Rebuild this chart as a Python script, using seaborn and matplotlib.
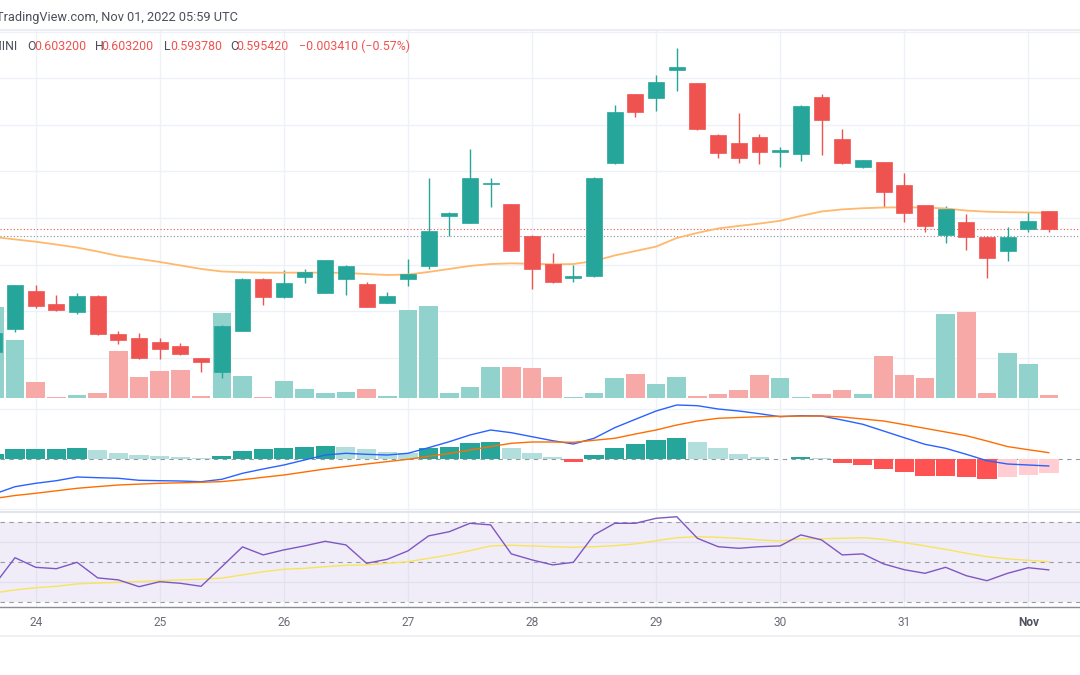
import matplotlib
matplotlib.use("Agg")
import matplotlib.pyplot as plt
from matplotlib.lines import Line2D
import seaborn as sns
import numpy as np

# 4h candles, Oct 23 16:00 -> Nov 01 04:00 UTC
opens = [0.5424, 0.5523, 0.5687, 0.5630, 0.5597, 0.5665, 0.5501, 0.5485, 0.5468, 0.5450, 0.5398, 0.5339, 0.5515,
         0.5738, 0.5662, 0.5748, 0.5679, 0.5738, 0.5716, 0.5635, 0.5738, 0.5794, 0.6009, 0.5980, 0.6145, 0.6059,
         0.5924, 0.5801, 0.5743, 0.5752, 0.6235, 0.6532, 0.6515, 0.6636, 0.6579, 0.6359, 0.6324, 0.6347, 0.6285,
         0.6275, 0.6522, 0.6338, 0.6218, 0.6240, 0.6142, 0.6056, 0.5927, 0.5984, 0.5920, 0.5859, 0.5953, 0.6032]
highs = [0.5518, 0.5714, 0.5712, 0.5669, 0.5678, 0.5667, 0.5515, 0.5507, 0.5484, 0.5463, 0.5400, 0.5538, 0.5741,
         0.5740, 0.5776, 0.5781, 0.5821, 0.5796, 0.5726, 0.5683, 0.5824, 0.6173, 0.6027, 0.6297, 0.6173, 0.6061,
         0.5926, 0.5848, 0.5798, 0.6175, 0.6486, 0.6534, 0.6615, 0.6730, 0.6581, 0.6361, 0.6450, 0.6361, 0.6304,
         0.6484, 0.6532, 0.6383, 0.6251, 0.6242, 0.6195, 0.6058, 0.6052, 0.6017, 0.5922, 0.5963, 0.6027, 0.6032]
lows = [0.5411, 0.5510, 0.5614, 0.5600, 0.5587, 0.5499, 0.5458, 0.5394, 0.5394, 0.5411, 0.5339, 0.5312, 0.5513,
        0.5626, 0.5656, 0.5721, 0.5677, 0.5669, 0.5617, 0.5633, 0.5708, 0.5781, 0.5923, 0.5978, 0.6049, 0.5857,
        0.5695, 0.5722, 0.5726, 0.5748, 0.6233, 0.6433, 0.6461, 0.6547, 0.6379, 0.6259, 0.6238, 0.6231, 0.6221,
        0.6245, 0.6271, 0.6233, 0.6214, 0.6049, 0.5984, 0.5939, 0.5894, 0.5862, 0.5741, 0.5816, 0.5941, 0.59378]
closes = [0.5506, 0.5712, 0.5622, 0.5604, 0.5665, 0.5501, 0.5475, 0.5398, 0.5437, 0.5415, 0.5382, 0.5536, 0.5739,
          0.5660, 0.5722, 0.5768, 0.5819, 0.5794, 0.5619, 0.5665, 0.5759, 0.5945, 0.6022, 0.6173, 0.6152, 0.5859,
          0.5781, 0.5724, 0.5752, 0.6173, 0.6457, 0.6457, 0.6586, 0.6648, 0.6381, 0.6278, 0.6257, 0.6285, 0.6292,
          0.6482, 0.6421, 0.6235, 0.6249, 0.6113, 0.6023, 0.5967, 0.6039, 0.5920, 0.5829, 0.5920, 0.59883, 0.59542]
volume = [9.1, 5.8, 1.6, 0.13, 0.3, 0.47, 4.7, 2.1, 2.7, 2.8, 0.23, 8.5, 2.2, 0.13, 1.7, 0.93, 0.53, 0.63, 0.9,
          0.2, 8.8, 9.2, 0.47, 1.1, 3.1, 3.1, 3.0, 2.1, 0.07, 0.47, 2.0, 2.4, 1.4, 2.1, 0.23, 0.37, 0.8, 2.3, 2.0,
          0.13, 0.4, 0.8, 0.4, 4.2, 2.3, 2.0, 8.4, 8.6, 0.53, 4.5, 3.4, 0.3]
price_ma = [0.5918, 0.5908, 0.5898, 0.5886, 0.5873, 0.5856, 0.5837, 0.5824, 0.5811, 0.5796, 0.5781, 0.5770, 0.5767,
            0.5765, 0.5765, 0.5765, 0.5765, 0.5764, 0.5759, 0.5755, 0.5757, 0.5768, 0.5781, 0.5794, 0.5802, 0.5805,
            0.5803, 0.5801, 0.5802, 0.5815, 0.5839, 0.5858, 0.5877, 0.5914, 0.5936, 0.5955, 0.5966, 0.5976, 0.5988,
            0.6009, 0.6028, 0.6037, 0.6042, 0.6045, 0.6046, 0.6045, 0.6041, 0.6032, 0.6027, 0.6025, 0.6024, 0.6022]
macd = [-0.00347, -0.00274, -0.00240, -0.00214, -0.00177, -0.00184, -0.00190, -0.00210, -0.00214, -0.00217,
        -0.00224, -0.00200, -0.00140, -0.00097, -0.00057, -0.00007, 0.00043, 0.00060, 0.00050, 0.00043, 0.00060,
        0.00116, 0.00176, 0.00243, 0.00293, 0.00266, 0.00226, 0.00186, 0.00153, 0.00210, 0.00316, 0.00400,
        0.00483, 0.00543, 0.00536, 0.00503, 0.00483, 0.00456, 0.00426, 0.00436, 0.00433, 0.00393, 0.00350,
        0.00283, 0.00216, 0.00150, 0.00110, 0.00050, -0.00014, -0.00047, -0.00057, -0.00067]
signal = [-0.00392, -0.00362, -0.00340, -0.00315, -0.00290, -0.00273, -0.00257, -0.00248, -0.00240, -0.00235,
          -0.00230, -0.00223, -0.00204, -0.00180, -0.00157, -0.00127, -0.00097, -0.00072, -0.00047, -0.00023,
          0.00000, 0.00030, 0.00059, 0.00093, 0.00127, 0.00160, 0.00173, 0.00173, 0.00170, 0.00190, 0.00210,
          0.00253, 0.00293, 0.00343, 0.00383, 0.00410, 0.00418, 0.00426, 0.00430, 0.00432, 0.00433, 0.00423,
          0.00403, 0.00383, 0.00347, 0.00310, 0.00273, 0.00236, 0.00183, 0.00127, 0.00096, 0.00066]
hist = [0.00050, 0.00100, 0.00106, 0.00107, 0.00113, 0.00090, 0.00066, 0.00043, 0.00033, 0.00020, 0.00010,
        0.00033, 0.00080, 0.00100, 0.00113, 0.00123, 0.00136, 0.00126, 0.00100, 0.00076, 0.00060, 0.00110,
        0.00126, 0.00160, 0.00170, 0.00116, 0.00066, 0.00020, -0.00024, 0.00043, 0.00116, 0.00153, 0.00193,
        0.00210, 0.00170, 0.00116, 0.00053, 0.00026, -0.00002, 0.00020, 0.00010, -0.00034, -0.00060, -0.00100,
        -0.00130, -0.00164, -0.00164, -0.00180, -0.00197, -0.00180, -0.00157, -0.00134]
rsi = [38.4, 52.0, 47.2, 46.5, 49.7, 41.9, 40.9, 37.5, 40.0, 39.2, 37.7, 47.5, 57.4, 53.4, 55.9, 57.9, 60.2, 58.4,
       49.2, 51.2, 55.4, 62.9, 65.0, 69.2, 68.4, 53.9, 50.9, 48.4, 49.7, 63.4, 69.2, 69.2, 71.7, 72.5, 61.7, 57.5,
       56.7, 57.5, 57.9, 63.4, 60.9, 53.4, 53.9, 48.9, 46.0, 44.2, 47.2, 43.0, 40.5, 44.2, 47.0, 45.9]
rsi_ma = [34.4, 35.9, 37.0, 37.7, 38.9, 39.3, 39.7, 40.1, 40.5, 40.9, 41.2, 41.8, 43.4, 45.0, 46.2, 46.7, 47.5,
          48.2, 48.4, 49.2, 50.0, 51.7, 53.4, 55.5, 57.9, 58.2, 57.9, 57.5, 57.2, 57.5, 58.0, 58.9, 60.5, 62.0,
          62.5, 62.2, 61.7, 60.9, 60.4, 61.4, 61.5, 61.7, 62.0, 61.2, 59.5, 57.9, 56.2, 54.2, 52.5, 51.4, 50.7, 50.0]

day_ticks = [2, 8, 14, 20, 26, 32, 38, 44, 50]
day_labels = ["24", "25", "26", "27", "28", "29", "30", "31", "Nov"]
price_grid = [0.54, 0.56, 0.58, 0.60, 0.62, 0.64, 0.66, 0.68]
prev_day_close = 0.5921
header = "TradingView.com, Nov 01, 2022 05:59 UTC"

GREEN, RED = "#26a69a", "#ef5350"
GRID = "#eef2f8"
W, H = 1080, 675
XLIM = (0.274, 52.5)

sns.set_theme(style="white")
plt.rcParams["font.family"] = ["Roboto", "DejaVu Sans"]

idx = np.arange(len(opens))
up = [c >= o for o, c in zip(opens, closes)]
candle_col = [GREEN if u else RED for u in up]
vol_col = ["#92d2cc" if u else "#f7a9a7" for u in up]
hist_col = []
for k, h in enumerate(hist):
    rising = k == 0 or h > hist[k - 1]
    if h >= 0:
        hist_col.append("#26a69a" if rising else "#b2dfdb")
    else:
        hist_col.append("#ffcdd2" if rising else "#ff5252")

fig = plt.figure(figsize=(W / 100, H / 100), dpi=100)
fig.patch.set_facecolor("white")


def rect(top, bottom):
    return [0, 1 - bottom / H, 1, (bottom - top) / H]


ax_grid = fig.add_axes(rect(30, 401))
ax_vol = fig.add_axes(rect(30, 401))
ax = fig.add_axes(rect(30, 401))
ax_macd = fig.add_axes(rect(401, 512))
ax_rsi = fig.add_axes(rect(512, 607))

for a in (ax_grid, ax_vol, ax, ax_macd, ax_rsi):
    a.set_xlim(*XLIM)
    for s in a.spines.values():
        s.set_visible(False)
for a in (ax_vol, ax):
    a.patch.set_visible(False)

# ---- main pane grid
ax_grid.set_ylim(0.52131, 0.68084)
for p in price_grid:
    ax_grid.axhline(p, color=GRID, lw=1.0)
for d in day_ticks:
    ax_grid.axvline(d, color=GRID, lw=1.0)
ax_grid.spines["top"].set_visible(True)
ax_grid.spines["top"].set_color("#eceef2")
ax_grid.spines["top"].set_linewidth(1.5)

# ---- volume overlay
sns.barplot(x=idx, y=volume, hue=vol_col, palette={c: c for c in set(vol_col)}, dodge=False,
            native_scale=True, width=0.9, saturation=1, errorbar=None, legend=False, linewidth=0, ax=ax_vol)
ax_vol.set_ylim(-0.3, 36.8)
ax_vol.set_xlim(*XLIM)

# ---- candles
ax.set_ylim(0.52131, 0.68084)
ax.axhline(prev_day_close, color="#8a8d96", lw=0.8, ls=(0, (1, 2)), zorder=1)
ax.axhline(closes[-1], color=RED, lw=0.8, ls=(0, (1, 2)), zorder=1)
ax.vlines(idx, lows, highs, colors=candle_col, lw=1.0, zorder=2)
body_lo = np.minimum(opens, closes)
body_h = np.maximum(np.abs(np.array(closes) - np.array(opens)), 0.0006)
ax.bar(idx, body_h, bottom=body_lo, width=0.77, color=candle_col, edgecolor=candle_col, lw=0.5, zorder=3)
sns.lineplot(x=idx, y=price_ma, ax=ax, color="#ffb86c", linewidth=1.3, errorbar=None, sort=False, zorder=2.5)
ax.set_xlim(*XLIM)

# ---- MACD pane
for d in day_ticks:
    ax_macd.axvline(d, color=GRID, lw=1.0, zorder=0)
for g in (0.005, -0.005):
    ax_macd.axhline(g, color=GRID, lw=1.0, zorder=0)
ax_macd.axhline(0, color="#9598a1", lw=0.8, ls=(0, (4, 4)), zorder=0.5)
sns.barplot(x=idx, y=hist, hue=hist_col, palette={c: c for c in set(hist_col)}, dodge=False,
            native_scale=True, width=0.93, saturation=1, errorbar=None, legend=False, linewidth=0, ax=ax_macd)
sns.lineplot(x=idx, y=macd, ax=ax_macd, color="#2962ff", linewidth=1.0, errorbar=None, sort=False)
sns.lineplot(x=idx, y=signal, ax=ax_macd, color="#ff6d00", linewidth=1.0, errorbar=None, sort=False)
ax_macd.set_ylim(-0.00527, 0.00583)
ax_macd.set_xlim(*XLIM)

# ---- RSI pane
for d in day_ticks:
    ax_rsi.axvline(d, color=GRID, lw=1.0, zorder=0)
ax_rsi.axhspan(30, 70, color="#7e57c2", alpha=0.1, lw=0, zorder=0.2)
for g in (40, 60):
    ax_rsi.axhline(g, color="#e2e0ee", lw=1.0, zorder=0.3)
for g in (30, 50, 70):
    ax_rsi.axhline(g, color="#9a9da6", lw=0.8, ls=(0, (4, 4)), zorder=0.5)
sns.lineplot(x=idx, y=rsi_ma, ax=ax_rsi, color="#f8e45c", linewidth=1.0, errorbar=None, sort=False)
sns.lineplot(x=idx, y=rsi, ax=ax_rsi, color="#7e57c2", linewidth=1.0, errorbar=None, sort=False)
ax_rsi.set_ylim(27.35, 74.85)
ax_rsi.set_xlim(*XLIM)
ax_rsi.spines["top"].set_visible(True)
ax_rsi.spines["top"].set_color("#e3e5ea")
ax_rsi.spines["top"].set_linewidth(1.5)
ax_rsi.spines["bottom"].set_visible(True)
ax_rsi.spines["bottom"].set_color("#8a8d96")
ax_rsi.spines["bottom"].set_linewidth(1.0)

for a in (ax_grid, ax_vol, ax, ax_macd, ax_rsi):
    a.set_xticks([])
    a.set_yticks([])
    a.set_xlabel("")
    a.set_ylabel("")

# day labels under the RSI pane
for d, lab in zip(day_ticks, day_labels):
    bold = lab == "Nov"
    ax_rsi.text(d, -0.158, lab, transform=ax_rsi.get_xaxis_transform(), ha="center", va="center",
                fontsize=8.6, color="#50535e" if bold else "#6a6d78", fontweight="bold" if bold else "normal",
                clip_on=False)

fig.add_artist(Line2D([0, 1], [1 - 636 / H, 1 - 636 / H], transform=fig.transFigure, color="#eef0f3", lw=1.5))

# ---- header texts
def fx(px):
    return px / W


fig.text(fx(238), 1 - 17 / H, header, ha="right", va="center", fontsize=9.2, color="#4c4f59")
y2 = 1 - 46 / H
lab_col = "#4c4f59"
fig.text(fx(17), y2, "MINI", ha="right", va="center", fontsize=8.9, color=lab_col)
change = closes[-1] - closes[-2]
pct = change / closes[-2] * 100
chg_txt = f"{change:.6f} ({pct:.2f}%)".replace("-", "\u2212")
pieces = [("O", 27, lab_col), (f"{opens[-1]:.6f}", 34.5, RED), ("H", 95, lab_col), (f"{highs[-1]:.6f}", 101.7, RED),
          ("L", 164, lab_col), (f"{lows[-1]:.6f}", 170, RED), ("C", 230, lab_col), (f"{closes[-1]:.6f}", 236.7, RED),
          (chg_txt, 299.3, RED)]
for txt, px, col in pieces:
    fig.text(fx(px), y2, txt, ha="left", va="center", fontsize=8.9, color=col)

plt.savefig("out.png", dpi=100)
plt.close()
